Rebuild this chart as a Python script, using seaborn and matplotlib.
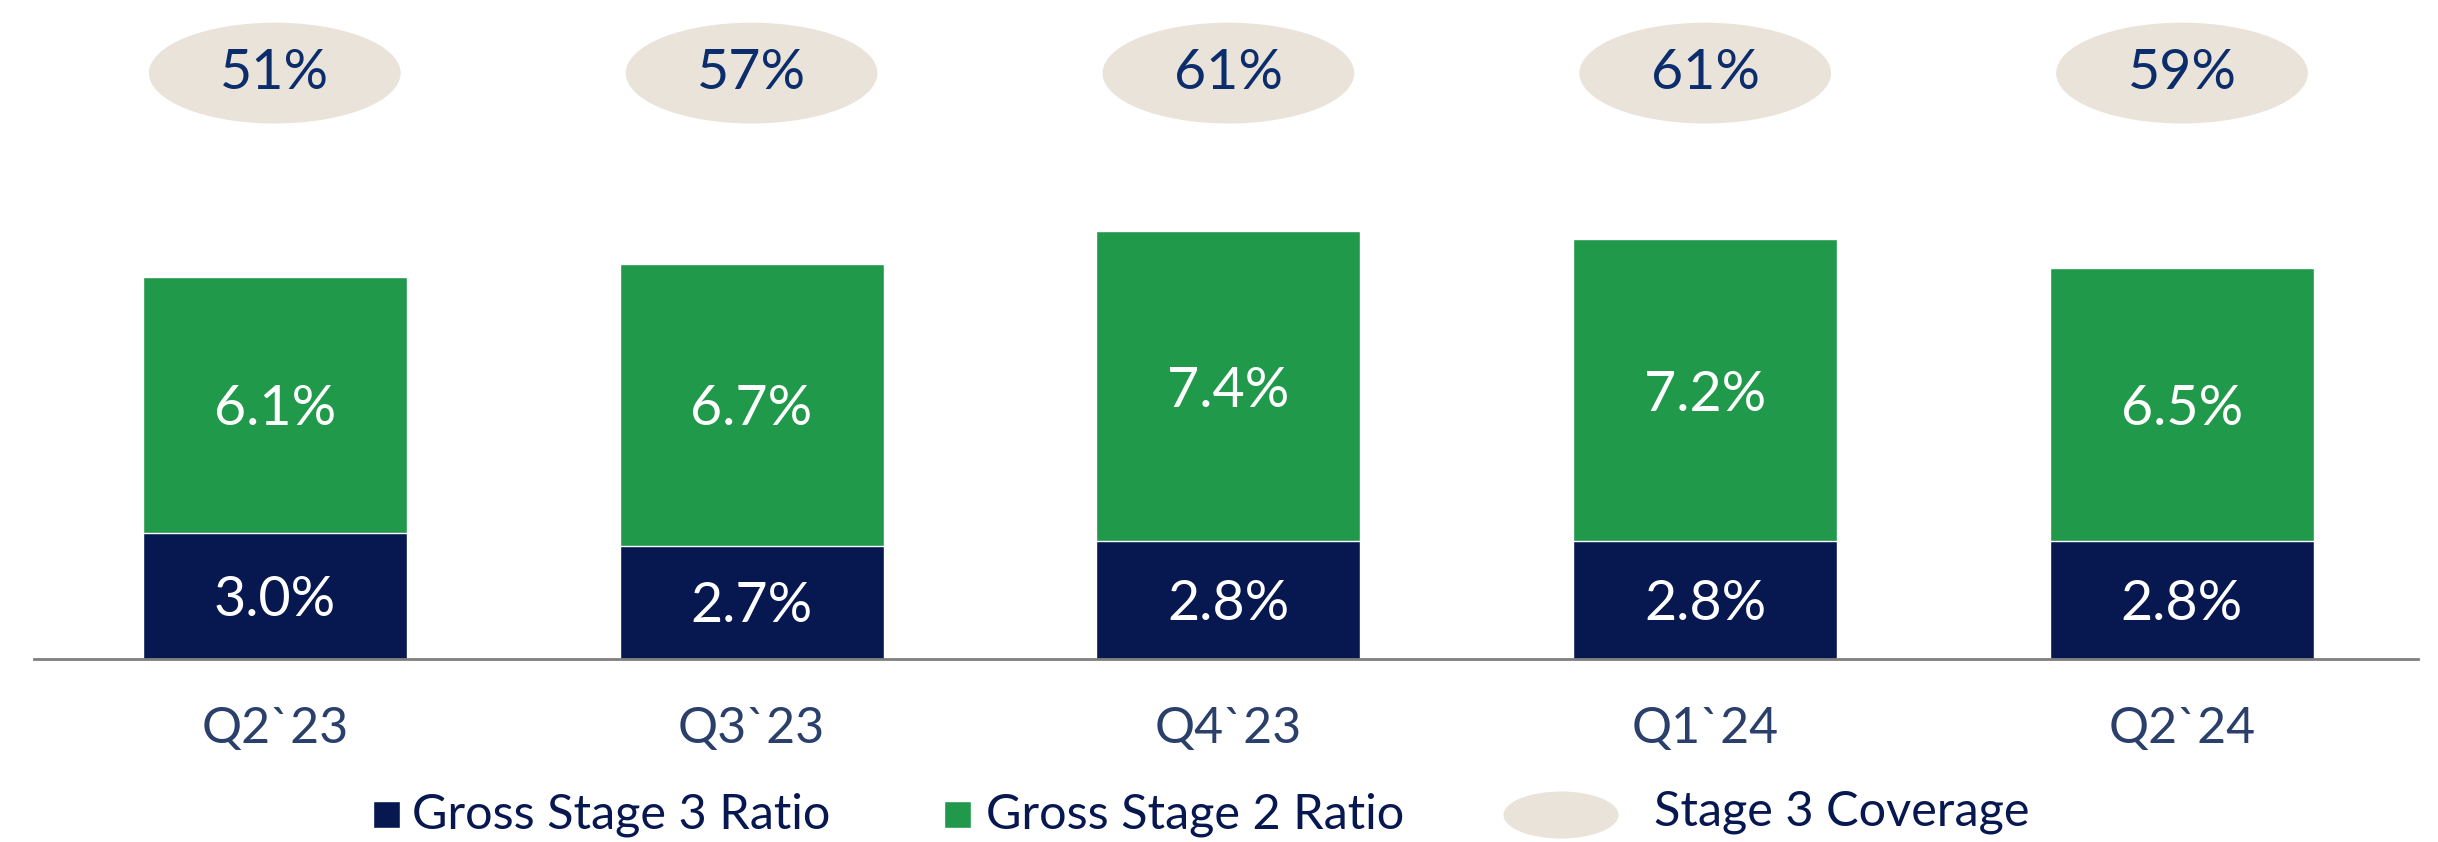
import matplotlib
matplotlib.use("Agg")
import matplotlib.pyplot as plt
from matplotlib.patches import Ellipse, Rectangle
import numpy as np
import pandas as pd
import seaborn as sns

quarters = ["Q2`23", "Q3`23", "Q4`23", "Q1`24", "Q2`24"]
stage3 = [3.0, 2.7, 2.8, 2.8, 2.8]
stage2 = [6.1, 6.7, 7.4, 7.2, 6.5]
coverage = [51, 57, 61, 61, 59]

navy = "#071850"
green = "#21994A"
beige = "#EAE3DA"
text_navy = "#0B2D6B"
label_navy = "#2A3F6A"

sns.set_theme(style="white")
plt.rcParams["font.family"] = ["Lato", "DejaVu Sans"]

df = pd.DataFrame({"quarter": quarters, "s3": stage3, "s2": stage2})
df["total"] = df["s3"] + df["s2"]

fig = plt.figure(figsize=(24.38, 8.42), dpi=100)
ax = fig.add_axes([34 / 2438, 1 - 659 / 842, 2384 / 2438, 659 / 842])

# stacked bars: total in green, stage 3 drawn over it
sns.barplot(data=df, x="quarter", y="total", color=green, width=0.554,
            saturation=1, ax=ax)
sns.barplot(data=df, x="quarter", y="s3", color=navy, width=0.554,
            saturation=1, ax=ax)

ax.set_xlim(-0.505, 4.495)
ax.set_ylim(0, 659 / 42)

for i in range(len(quarters)):
    ax.text(i, stage3[i] / 2 - 0.1, f"{stage3[i]:.1f}%", ha="center",
            va="center", color="white", fontsize=40)
    ax.text(i, stage3[i] + stage2[i] / 2 - 0.12, f"{stage2[i]:.1f}%",
            ha="center", va="center", color="white", fontsize=40)
    ax.add_patch(Ellipse((i, 13.95), 0.528, 2.4, facecolor=beige,
                         edgecolor="none", clip_on=False))
    ax.text(i, 13.95, f"{coverage[i]}%", ha="center", va="center",
            color=text_navy, fontsize=40)

for s in ["top", "right", "left"]:
    ax.spines[s].set_visible(False)
ax.spines["bottom"].set_color("#7F7F7F")
ax.spines["bottom"].set_linewidth(2)
ax.set_yticks([])
ax.set_xlabel("")
ax.set_ylabel("")
ax.tick_params(axis="x", length=0, pad=34, labelsize=36, labelcolor=label_navy)

# legend drawn by hand in figure pixels
W, H = 2438, 842
ly = 1 - 815 / H
fig.patches.append(Rectangle((373 / W, 1 - 828 / H), 27 / W, 27 / H,
                             transform=fig.transFigure, facecolor=navy))
fig.text(412 / W, ly, "Gross Stage 3 Ratio", color=navy, fontsize=35,
         va="center", ha="left")
fig.patches.append(Rectangle((944 / W, 1 - 828 / H), 27 / W, 27 / H,
                             transform=fig.transFigure, facecolor=green))
fig.text(986 / W, ly, "Gross Stage 2 Ratio", color=navy, fontsize=35,
         va="center", ha="left")
fig.patches.append(Ellipse((1561 / W, 1 - 815 / H), 115 / W, 47 / H,
                           transform=fig.transFigure, facecolor=beige,
                           edgecolor="none"))
fig.text(1654 / W, 1 - 812 / H, "Stage 3 Coverage", color=navy, fontsize=35,
         va="center", ha="left")

fig.savefig("out.png", dpi=100)
